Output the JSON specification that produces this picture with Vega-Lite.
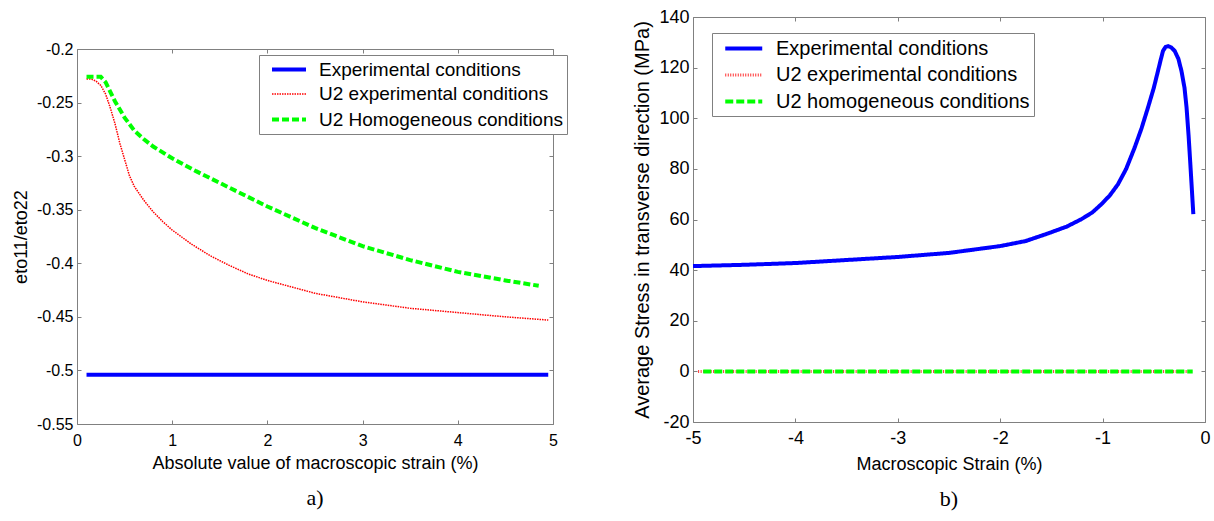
{
  "$schema": "https://vega.github.io/schema/vega-lite/v6.json",
  "background": "white",
  "padding": {"left": 12, "top": 7, "right": 0, "bottom": 0},
  "spacing": 64,
  "resolve": {
    "scale": {"color": "independent", "strokeDash": "independent", "strokeWidth": "independent"},
    "legend": {"color": "independent", "strokeDash": "independent", "strokeWidth": "independent"}
  },
  "config": {
    "font": "Liberation Sans",
    "view": {"stroke": "#808080", "strokeWidth": 1},
    "axis": {
      "grid": false, "domain": false, "ticks": true, "tickSize": -4, "tickColor": "#808080",
      "labelFont": "Liberation Sans", "labelFontSize": 16, "labelColor": "black",
      "titleFont": "Liberation Sans", "titleFontSize": 18, "titleFontWeight": "normal", "titleColor": "black",
      "labelFlush": false, "labelOverlap": false
    },
    "legend": {
      "labelFont": "Liberation Sans", "labelColor": "black", "labelLimit": 600
    }
  },
  "datasets": {
    "a": [
      {"s": "Experimental conditions", "x": 0.1, "y": -0.504},
      {"s": "Experimental conditions", "x": 4.95, "y": -0.504},
      {"s": "U2 experimental conditions", "x": 0.1, "y": -0.228},
      {"s": "U2 experimental conditions", "x": 0.15, "y": -0.228},
      {"s": "U2 experimental conditions", "x": 0.2, "y": -0.23},
      {"s": "U2 experimental conditions", "x": 0.25, "y": -0.234},
      {"s": "U2 experimental conditions", "x": 0.3, "y": -0.242},
      {"s": "U2 experimental conditions", "x": 0.35, "y": -0.255},
      {"s": "U2 experimental conditions", "x": 0.4, "y": -0.27},
      {"s": "U2 experimental conditions", "x": 0.45, "y": -0.288},
      {"s": "U2 experimental conditions", "x": 0.5, "y": -0.303},
      {"s": "U2 experimental conditions", "x": 0.55, "y": -0.318},
      {"s": "U2 experimental conditions", "x": 0.6, "y": -0.328},
      {"s": "U2 experimental conditions", "x": 0.7, "y": -0.341},
      {"s": "U2 experimental conditions", "x": 0.8, "y": -0.352},
      {"s": "U2 experimental conditions", "x": 0.9, "y": -0.361},
      {"s": "U2 experimental conditions", "x": 1.0, "y": -0.369},
      {"s": "U2 experimental conditions", "x": 1.2, "y": -0.382},
      {"s": "U2 experimental conditions", "x": 1.4, "y": -0.393},
      {"s": "U2 experimental conditions", "x": 1.6, "y": -0.402},
      {"s": "U2 experimental conditions", "x": 1.8, "y": -0.41},
      {"s": "U2 experimental conditions", "x": 2.0, "y": -0.416},
      {"s": "U2 experimental conditions", "x": 2.25, "y": -0.422},
      {"s": "U2 experimental conditions", "x": 2.5, "y": -0.428},
      {"s": "U2 experimental conditions", "x": 2.75, "y": -0.432},
      {"s": "U2 experimental conditions", "x": 3.0, "y": -0.436},
      {"s": "U2 experimental conditions", "x": 3.5, "y": -0.442},
      {"s": "U2 experimental conditions", "x": 4.0, "y": -0.446},
      {"s": "U2 experimental conditions", "x": 4.5, "y": -0.45},
      {"s": "U2 experimental conditions", "x": 4.95, "y": -0.453},
      {"s": "U2 Homogeneous conditions", "x": 0.1, "y": -0.226},
      {"s": "U2 Homogeneous conditions", "x": 0.25, "y": -0.226},
      {"s": "U2 Homogeneous conditions", "x": 0.3, "y": -0.231},
      {"s": "U2 Homogeneous conditions", "x": 0.35, "y": -0.24},
      {"s": "U2 Homogeneous conditions", "x": 0.4, "y": -0.249},
      {"s": "U2 Homogeneous conditions", "x": 0.5, "y": -0.264},
      {"s": "U2 Homogeneous conditions", "x": 0.6, "y": -0.276},
      {"s": "U2 Homogeneous conditions", "x": 0.7, "y": -0.284},
      {"s": "U2 Homogeneous conditions", "x": 0.8, "y": -0.291},
      {"s": "U2 Homogeneous conditions", "x": 1.0, "y": -0.302},
      {"s": "U2 Homogeneous conditions", "x": 1.25, "y": -0.314},
      {"s": "U2 Homogeneous conditions", "x": 1.5, "y": -0.325},
      {"s": "U2 Homogeneous conditions", "x": 1.75, "y": -0.336},
      {"s": "U2 Homogeneous conditions", "x": 2.0, "y": -0.347},
      {"s": "U2 Homogeneous conditions", "x": 2.5, "y": -0.367},
      {"s": "U2 Homogeneous conditions", "x": 3.0, "y": -0.384},
      {"s": "U2 Homogeneous conditions", "x": 3.5, "y": -0.397},
      {"s": "U2 Homogeneous conditions", "x": 4.0, "y": -0.408},
      {"s": "U2 Homogeneous conditions", "x": 4.5, "y": -0.416},
      {"s": "U2 Homogeneous conditions", "x": 4.85, "y": -0.421}
    ],
    "b": [
      {"s": "Experimental conditions", "x": -5.0, "y": 41.6},
      {"s": "Experimental conditions", "x": -4.5, "y": 42.1},
      {"s": "Experimental conditions", "x": -4.0, "y": 42.8},
      {"s": "Experimental conditions", "x": -3.5, "y": 44.0},
      {"s": "Experimental conditions", "x": -3.0, "y": 45.2},
      {"s": "Experimental conditions", "x": -2.5, "y": 46.8},
      {"s": "Experimental conditions", "x": -2.0, "y": 49.5},
      {"s": "Experimental conditions", "x": -1.75, "y": 51.5},
      {"s": "Experimental conditions", "x": -1.533, "y": 54.5},
      {"s": "Experimental conditions", "x": -1.35, "y": 57.2},
      {"s": "Experimental conditions", "x": -1.208, "y": 60.1},
      {"s": "Experimental conditions", "x": -1.1, "y": 62.8},
      {"s": "Experimental conditions", "x": -1.013, "y": 66.0},
      {"s": "Experimental conditions", "x": -0.93, "y": 69.5},
      {"s": "Experimental conditions", "x": -0.85, "y": 73.9},
      {"s": "Experimental conditions", "x": -0.77, "y": 80.0},
      {"s": "Experimental conditions", "x": -0.687, "y": 88.4},
      {"s": "Experimental conditions", "x": -0.62, "y": 96.0},
      {"s": "Experimental conditions", "x": -0.557, "y": 104.2},
      {"s": "Experimental conditions", "x": -0.5, "y": 112.0},
      {"s": "Experimental conditions", "x": -0.459, "y": 118.7},
      {"s": "Experimental conditions", "x": -0.43, "y": 123.5},
      {"s": "Experimental conditions", "x": -0.41, "y": 126.6},
      {"s": "Experimental conditions", "x": -0.385, "y": 128.2},
      {"s": "Experimental conditions", "x": -0.36, "y": 128.5},
      {"s": "Experimental conditions", "x": -0.33, "y": 128.0},
      {"s": "Experimental conditions", "x": -0.296, "y": 126.6},
      {"s": "Experimental conditions", "x": -0.26, "y": 123.5},
      {"s": "Experimental conditions", "x": -0.23, "y": 118.7},
      {"s": "Experimental conditions", "x": -0.2, "y": 112.0},
      {"s": "Experimental conditions", "x": -0.18, "y": 104.2},
      {"s": "Experimental conditions", "x": -0.16, "y": 93.0},
      {"s": "Experimental conditions", "x": -0.149, "y": 85.8},
      {"s": "Experimental conditions", "x": -0.13, "y": 73.0},
      {"s": "Experimental conditions", "x": -0.114, "y": 62.1},
      {"s": "U2 experimental conditions", "x": -4.95, "y": 0},
      {"s": "U2 experimental conditions", "x": -0.12, "y": 0},
      {"s": "U2 homogeneous conditions", "x": -4.9, "y": 0},
      {"s": "U2 homogeneous conditions", "x": -0.12, "y": 0}
    ],
    "empty": []
  },
  "hconcat": [
    {
      "spacing": 18,
      "vconcat": [
        {
          "width": 476,
          "height": 5,
          "data": {"name": "empty"},
          "mark": {"type": "point"},
          "encoding": {},
          "view": {"stroke": null}
        },
        {
          "width": 476,
          "height": 375,
          "data": {"name": "a"},
          "title": {"text": "a)", "orient": "bottom", "frame": "group", "font": "Liberation Serif", "fontSize": 22, "fontWeight": "normal", "offset": 16, "color": "black"},
          "resolve": {"axis": {"x": "independent", "y": "independent"}},
          "layer": [
            {
              "mark": {"type": "line"},
              "encoding": {
                "x": {"field": "x", "type": "quantitative", "scale": {"domain": [0, 5], "nice": false, "zero": false},
                  "axis": {"orient": "bottom", "values": [0, 1, 2, 3, 4, 5], "title": "Absolute value of macroscopic strain (%)", "labelPadding": 12, "titlePadding": 6}},
                "y": {"field": "y", "type": "quantitative", "scale": {"domain": [-0.55, -0.2], "nice": false, "zero": false},
                  "axis": {"orient": "left", "values": [-0.55, -0.5, -0.45, -0.4, -0.35, -0.3, -0.25, -0.2], "title": "eto11/eto22", "labelPadding": 8, "titlePadding": 6,
                    "labelExpr": "datum.value < 0 ? '-' + format(-datum.value, '~g') : format(datum.value, '~g')"}},
                "color": {"field": "s", "type": "nominal",
                  "scale": {"domain": ["Experimental conditions", "U2 experimental conditions", "U2 Homogeneous conditions"], "range": ["#0000ff", "#ff0000", "#00ff00"]},
                  "legend": {"orient": "none", "legendX": 182, "legendY": 38, "title": null, "strokeColor": "#808080", "fillColor": "white", "padding": 4,
                    "labelFontSize": 19, "symbolType": "M-1,0H3", "symbolSize": 289, "symbolOffset": 7, "labelOffset": 28, "rowPadding": 4.5}},
                "strokeDash": {"field": "s", "type": "nominal",
                  "scale": {"domain": ["Experimental conditions", "U2 experimental conditions", "U2 Homogeneous conditions"], "range": [[1, 0], [1.5, 1], [7, 3]]}},
                "strokeWidth": {"field": "s", "type": "nominal",
                  "scale": {"type": "ordinal", "domain": ["Experimental conditions", "U2 experimental conditions", "U2 Homogeneous conditions"], "range": [4, 1.5, 4]}}
              }
            },
            {
              "mark": {"type": "point", "opacity": 0},
              "encoding": {
                "x": {"field": "x", "type": "quantitative", "axis": {"orient": "top", "values": [0, 1, 2, 3, 4, 5], "labels": false, "title": null}},
                "y": {"field": "y", "type": "quantitative", "axis": {"orient": "right", "values": [-0.55, -0.5, -0.45, -0.4, -0.35, -0.3, -0.25, -0.2], "labels": false, "title": null}}
              }
            }
          ]
        }
      ]
    },
    {
      "width": 512,
      "height": 405,
      "data": {"name": "b"},
      "title": {"text": "b)", "orient": "bottom", "frame": "group", "font": "Liberation Serif", "fontSize": 22, "fontWeight": "normal", "offset": 16, "color": "black"},
      "resolve": {"axis": {"x": "independent", "y": "independent"}},
      "layer": [
        {
          "mark": {"type": "line"},
          "encoding": {
            "x": {"field": "x", "type": "quantitative", "scale": {"domain": [-5, 0], "nice": false, "zero": false},
              "axis": {"orient": "bottom", "values": [-5, -4, -3, -2, -1, 0], "title": "Macroscopic Strain (%)", "labelPadding": 11, "titlePadding": 8, "labelFontSize": 18, "titleFontSize": 18,
                "labelExpr": "datum.value < 0 ? '-' + format(-datum.value, '~g') : format(datum.value, '~g')"}},
            "y": {"field": "y", "type": "quantitative", "scale": {"domain": [-20, 140], "nice": false, "zero": false},
              "axis": {"orient": "left", "values": [-20, 0, 20, 40, 60, 80, 100, 120, 140], "title": "Average Stress in transverse direction (MPa)", "labelPadding": 8, "titlePadding": 6, "labelFontSize": 18, "titleFontSize": 20,
                "labelExpr": "datum.value < 0 ? '-' + format(-datum.value, '~g') : format(datum.value, '~g')"}},
            "color": {"field": "s", "type": "nominal",
              "scale": {"domain": ["Experimental conditions", "U2 experimental conditions", "U2 homogeneous conditions"], "range": ["#0000ff", "#ff3030", "#00ff00"]},
              "legend": {"orient": "none", "legendX": 19, "legendY": 16, "title": null, "strokeColor": "#808080", "fillColor": "white", "padding": 4,
                "labelFontSize": 20, "symbolType": "M-1,0H3", "symbolSize": 342, "symbolOffset": 7, "labelOffset": 30, "rowPadding": 5}},
            "strokeDash": {"field": "s", "type": "nominal",
              "scale": {"domain": ["Experimental conditions", "U2 experimental conditions", "U2 homogeneous conditions"], "range": [[1, 0], [1, 1.5], [8, 3]]}},
            "strokeWidth": {"field": "s", "type": "nominal",
              "scale": {"type": "ordinal", "domain": ["Experimental conditions", "U2 experimental conditions", "U2 homogeneous conditions"], "range": [4, 3, 4]}}
          }
        },
        {
          "mark": {"type": "point", "opacity": 0},
          "encoding": {
            "x": {"field": "x", "type": "quantitative", "axis": {"orient": "top", "values": [-5, -4, -3, -2, -1, 0], "labels": false, "title": null}},
            "y": {"field": "y", "type": "quantitative", "axis": {"orient": "right", "values": [-20, 0, 20, 40, 60, 80, 100, 120, 140], "labels": false, "title": null}}
          }
        }
      ]
    }
  ]
}
